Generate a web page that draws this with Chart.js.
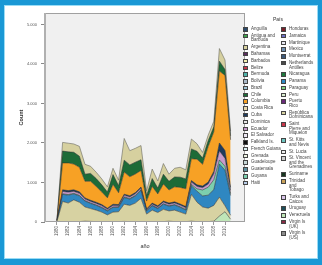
<!DOCTYPE html>
<html>
<head>
<meta charset="utf-8">
<script src="https://cdn.jsdelivr.net/npm/chart.js@4"></script>
<style>
  html, body { margin: 0; padding: 0; background: #fff; }
  body { width: 322px; height: 265px; position: relative; overflow: hidden; font-family: Arial, "Liberation Sans", sans-serif; }
  #frame { position: absolute; left: 0; top: 0; width: 322px; height: 265px; box-sizing: border-box;
           border-style: solid; border-color: #1a98d5; border-width: 5px 4px 6px 4px;
           box-shadow: inset 0 0 0 1px #9adcf5; pointer-events: none; }
  #c { position: absolute; left: 0; top: 0; }
  .col { position: absolute; top: 27px; }
  .item { display: flex; align-items: flex-start; margin-bottom: 2.2px; font-size: 4.5px; line-height: 4.6px; color: #444; }
  .sw { width: 5px; height: 4.5px; border: 0.5px solid #444; box-sizing: border-box; flex: none; margin-right: 3px; }
  #col1 .txt { width: 30px; }
  #col2 .txt { width: 23px; }
  #ltitle { position: absolute; left: 273px; top: 16px; font-size: 5px; color: #333; }
</style>
</head>
<body>
<canvas id="c" width="322" height="265"></canvas>
<div id="ltitle">País</div>
<div class="col" id="col1" style="left:243px"></div>
<div class="col" id="col2" style="left:281px"></div>
<div id="frame"></div>
<script>
// years (x) and axis ticks
var years = [1980, 1981, 1982, 1983, 1984, 1985, 1986, 1987, 1988, 1989, 1990, 1991, 1992, 1993, 1994, 1995,
             1996, 1997, 1998, 1999, 2000, 2001, 2002, 2003, 2004, 2005, 2006, 2007, 2008, 2009, 2010, 2011];
var tickYears = [1980, 1982, 1984, 1986, 1988, 1990, 1992, 1994, 1996, 1998, 2000, 2002, 2004, 2006, 2008, 2010];
var yTicks = [0, 1000, 2000, 3000, 4000, 5000];
var yLabels = ['0', '1.000', '2.000', '3.000', '4.000', '5.000'];

// counts per country (stacked bottom to top)
var venezuela = [0, 10, 10, 10, 10, 20, 15, 10, 10, 10, 10, 10, 15, 10, 10, 10, 10, 10, 10, 10, 20, 10, 10, 10, 20, 10, 10, 10, 20, 150, 260, 70];
var repDominicana = [20, 510, 470, 550, 490, 360, 325, 290, 240, 170, 240, 250, 435, 410, 470, 590, 190, 290, 230, 310, 260, 290, 240, 190, 680, 490, 370, 340, 400, 480, 150, 100];
var panama = [10, 180, 200, 150, 160, 150, 130, 120, 110, 100, 120, 110, 170, 160, 180, 200, 80, 110, 100, 130, 120, 130, 120, 100, 220, 280, 280, 330, 400, 840, 900, 500];
var guyana = [0, 15, 15, 15, 15, 10, 10, 10, 10, 10, 10, 10, 15, 15, 15, 15, 10, 10, 10, 10, 10, 10, 15, 20, 30, 60, 150, 200, 250, 100, 100, 50];
var ecuador = [0, 60, 60, 50, 50, 40, 40, 40, 40, 30, 40, 30, 40, 40, 40, 40, 20, 30, 30, 40, 40, 40, 40, 40, 60, 60, 60, 80, 150, 230, 200, 80];
var cuba = [10, 40, 40, 40, 40, 30, 30, 30, 30, 30, 30, 30, 30, 30, 30, 30, 20, 30, 30, 30, 30, 30, 30, 30, 40, 40, 40, 50, 60, 200, 200, 80];
var colombia = [10, 680, 700, 650, 620, 420, 480, 400, 320, 260, 500, 300, 560, 480, 470, 420, 200, 420, 300, 430, 330, 380, 420, 450, 550, 650, 550, 900, 1000, 1820, 1900, 1200];
var chile = [0, 300, 280, 300, 280, 180, 200, 200, 180, 150, 250, 180, 300, 300, 300, 270, 140, 200, 150, 250, 220, 250, 260, 250, 250, 200, 160, 150, 130, 250, 150, 100];
var argentina = [10, 220, 220, 210, 250, 250, 180, 160, 150, 130, 160, 140, 550, 360, 350, 360, 120, 240, 180, 270, 180, 220, 250, 230, 250, 190, 140, 140, 140, 320, 240, 120];

var seriesNames = ['Venezuela', 'República Dominicana', 'Panama', 'Guyana', 'Ecuador', 'Cuba', 'Colombia', 'Chile', 'Argentina'];
var seriesData = [venezuela, repDominicana, panama, guyana, ecuador, cuba, colombia, chile, argentina];
var seriesColors = ['#bfe6b8', '#d7d2a2', '#2f87c1', '#7ccfae', '#c89acb', '#1f3b5c', '#f7a125', '#1d6b37', '#d6d09f'];

// legend (País)
var legendCol1 = ['Anguilla', 'Antigua and Barbuda', 'Argentina', 'Bahamas', 'Barbados', 'Belize', 'Bermuda', 'Bolivia',
                  'Brazil', 'Chile', 'Colombia', 'Costa Rica', 'Cuba', 'Dominica', 'Ecuador', 'El Salvador', 'Falkland Is.',
                  'French Guiana', 'Grenada', 'Guadeloupe', 'Guatemala', 'Guyana', 'Haiti'];
var legendCol1Colors = ['#2c4a6b', '#3fa34d', '#d6d09f', '#5a2d5e', '#f4efb0', '#c8374a', '#4fb3a9', '#a9b8c8',
                        '#9fc4d6', '#1d6b37', '#f7a125', '#e8d9b0', '#1f3b5c', '#e6e6e6', '#c89acb', '#ece7f2', '#111111',
                        '#d8eef0', '#eef4e4', '#c7d6d6', '#5f8f9f', '#7ccfae', '#b9cde8'];
var legendCol2 = ['Honduras', 'Jamaica', 'Martinique', 'Mexico', 'Montserrat', 'Netherlands Antilles', 'Nicaragua', 'Panama',
                  'Paraguay', 'Peru', 'Puerto Rico', 'República Dominicana', 'Saint Pierre and Miquelon', 'St. Kitts and Nevis',
                  'St. Lucia', 'St. Vincent and the Grenadines', 'Suriname', 'Trinidad and Tobago', 'Turks and Caicos',
                  'Uruguay', 'Venezuela', 'Virgin Is (UK)', 'Virgin Is (US)'];
var legendCol2Colors = ['#7a1f2a', '#6d6fc4', '#eaeaf4', '#6f8fb0', '#3d5a7a', '#4a4a4a', '#1f7a3e', '#2f87c1',
                        '#7fd07f', '#dbeed0', '#6a2a7a', '#d7d2a2', '#c8374a', '#6cc4c0', '#f0f0f0', '#cfcfcf',
                        '#17361f', '#c9a25a', '#d9c6ea', '#1f4f5a', '#bfe6b8', '#8a2a45', '#8c8c8c'];

function fillLegend(id, names, colors) {
    var html = '';
    for (var i = 0; i < names.length; i++) {
        html += '<div class="item"><div class="sw" style="background:' + colors[i] + '"></div><div class="txt">' + names[i] + '</div></div>';
    }
    document.getElementById(id).innerHTML = html;
}
fillLegend('col1', legendCol1, legendCol1Colors);
fillLegend('col2', legendCol2, legendCol2Colors);

Chart.defaults.font.family = 'Arial, "Liberation Sans", sans-serif';

var datasets = seriesData.map(function (arr, i) {
    return {
        label: seriesNames[i],
        data: arr.map(function (v, j) { return { x: years[j], y: v }; }),
        backgroundColor: seriesColors[i],
        borderColor: i === seriesData.length - 1 ? 'rgba(110,110,100,0.9)' : 'rgba(40,40,40,0.75)',
        borderWidth: 0.7,
        pointRadius: 0,
        tension: 0,
        fill: i === 0 ? 'origin' : '-1'
    };
});

// grey plot background + frame
var plotFrame = {
    id: 'plotFrame',
    beforeDraw: function (chart) {
        var a = chart.chartArea, ctx = chart.ctx;
        ctx.save();
        ctx.fillStyle = '#f0f0f0';
        ctx.fillRect(a.left, a.top, a.right - a.left, a.bottom - a.top);
        ctx.restore();
    },
    afterDatasetsDraw: function (chart) {
        var a = chart.chartArea, ctx = chart.ctx;
        ctx.save();
        ctx.strokeStyle = '#a0a0a0';
        ctx.lineWidth = 1;
        ctx.strokeRect(a.left + 0.5, a.top + 0.5, a.right - a.left - 1, a.bottom - a.top - 1);
        ctx.strokeStyle = '#b0b0b0';
        ctx.lineWidth = 2;
        ctx.beginPath();
        ctx.moveTo(a.left, a.top);
        ctx.lineTo(a.left, a.bottom);
        ctx.stroke();
        ctx.restore();
    }
};

var ctx = document.getElementById('c').getContext('2d');
var chart = new Chart(ctx, {
    type: 'line',
    data: { datasets: datasets },
    plugins: [plotFrame],
    options: {
        responsive: false,
        animation: false,
        devicePixelRatio: 1,
        layout: { padding: { left: 10, top: 13, right: 77, bottom: 10 } },
        plugins: { legend: { display: false }, tooltip: { enabled: false } },
        scales: {
            x: {
                type: 'linear',
                min: 1977.86,
                max: 2013.57,
                afterFit: function (s) { s.height = 33; },
                afterBuildTicks: function (s) { s.ticks = tickYears.map(function (v) { return { value: v }; }); },
                border: { display: false },
                grid: { drawOnChartArea: false, drawTicks: true, tickLength: 3, color: '#999' },
                ticks: {
                    autoSkip: false, minRotation: 90, maxRotation: 90, padding: 1,
                    color: '#555', font: { size: 4.5 },
                    callback: function (v) { return String(v); }
                },
                title: { display: true, text: 'año', color: '#333', font: { size: 5.5 }, padding: { top: 0, bottom: 5 } }
            },
            y: {
                stacked: true,
                min: 0,
                max: 5290,
                afterFit: function (s) { s.width = 35; },
                afterBuildTicks: function (s) { s.ticks = yTicks.map(function (v) { return { value: v }; }); },
                border: { display: false },
                grid: { drawOnChartArea: false, drawTicks: true, tickLength: 4, color: '#888' },
                ticks: {
                    padding: 4, color: '#555', font: { size: 4 },
                    callback: function (v, i) { return yLabels[i]; }
                },
                title: { display: true, text: 'Count', color: '#333', font: { size: 5.5, weight: 'bold' }, padding: { top: 8.5, bottom: 0 } }
            }
        }
    }
});
</script>
</body>
</html>
